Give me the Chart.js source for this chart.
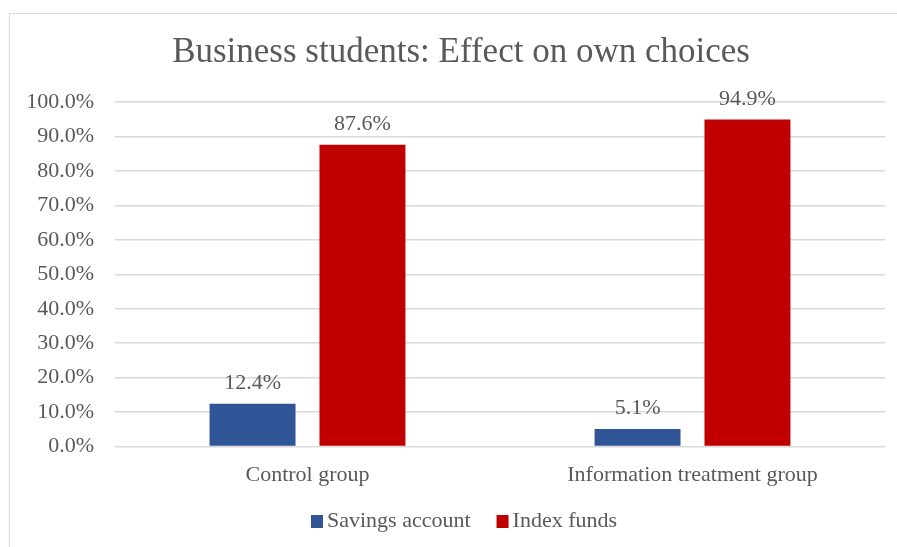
<!DOCTYPE html>
<html>
<head>
<meta charset="utf-8">
<script src="https://cdn.jsdelivr.net/npm/chart.js@4.4.1/dist/chart.umd.min.js"></script>
<style>
  html, body { margin: 0; padding: 0; background: #fff; }
  #wrap { position: relative; width: 897px; height: 547px; overflow: hidden; }
  #frame { position: absolute; left: 9px; top: 13px; width: 950px; height: 600px;
           border-left: 1px solid #d9d9d9; border-top: 1px solid #d9d9d9; }
  canvas { position: absolute; left: 0; top: 0; }
</style>
</head>
<body>
<div id="wrap">
  <div id="frame"></div>
  <canvas id="chart" width="897" height="547"></canvas>
</div>
<script>
// chart data
var groups = ['Control group', 'Information treatment group'];
var savingsAccount = [12.4, 5.1];
var indexFunds = [87.6, 94.9];
var seriesNames = ['Savings account', 'Index funds'];
var chartTitle = 'Business students: Effect on own choices';

var textColor = '#595959';
var serif = '"Liberation Serif", "Times New Roman", serif';
var labelFont = '22px ' + serif;
var centerX = 463;   // title and legend share this centre line

// writes the value above every bar
var barValues = {
  id: 'barValues',
  afterDatasetsDraw: function(chart) {
    var ctx = chart.ctx;
    ctx.save();
    ctx.font = labelFont;
    ctx.fillStyle = textColor;
    ctx.textAlign = 'center';
    ctx.textBaseline = 'alphabetic';
    chart.data.datasets.forEach(function(ds, i) {
      chart.getDatasetMeta(i).data.forEach(function(bar, j) {
        ctx.fillText(ds.data[j].toFixed(1) + '%', bar.x, bar.y - 15);
      });
    });
    ctx.restore();
  }
};

// title on top and a compact legend under the axis
var titleAndLegend = {
  id: 'titleAndLegend',
  afterDraw: function(chart) {
    var ctx = chart.ctx;
    ctx.save();
    ctx.fillStyle = textColor;
    ctx.font = '35px ' + serif;
    ctx.textAlign = 'center';
    ctx.textBaseline = 'middle';
    ctx.fillText(chartTitle, centerX - 2, 53);

    var box = 12, gap = 4, spacing = 26, y = 521;
    ctx.font = labelFont;
    ctx.textAlign = 'left';
    var items = chart.data.datasets.map(function(ds) {
      return { text: ds.label, color: ds.backgroundColor, w: box + gap + ctx.measureText(ds.label).width };
    });
    var total = items.reduce(function(s, it) { return s + it.w; }, 0) + spacing * (items.length - 1);
    var x = centerX + 1 - total / 2;
    items.forEach(function(it) {
      ctx.fillStyle = it.color;
      ctx.fillRect(x, y - box / 2, box, box + 1);
      ctx.fillStyle = textColor;
      ctx.fillText(it.text, x + box + gap, y);
      x += it.w + spacing;
    });
    ctx.restore();
  }
};

var ctx = document.getElementById('chart').getContext('2d');
var chart = new Chart(ctx, {
  type: 'bar',
  data: {
    labels: groups,
    datasets: [
      { label: seriesNames[0], data: savingsAccount, backgroundColor: '#2f5597', borderWidth: 0 },
      { label: seriesNames[1], data: indexFunds, backgroundColor: '#c00000', borderWidth: 0 }
    ]
  },
  options: {
    responsive: false,
    animation: false,
    categoryPercentage: 0.571,
    barPercentage: 0.782,
    layout: { padding: { left: 0, right: 12, top: 102, bottom: 52 } },
    scales: {
      x: {
        grid: { display: false },
        border: { display: false },
        ticks: { color: textColor, font: { family: serif, size: 22 }, padding: 7 }
      },
      y: {
        min: 0,
        max: 100,
        afterFit: function(scale) { scale.width = 115; },
        grid: { color: '#d9d9d9', lineWidth: 1.5, drawTicks: false },
        border: { display: false },
        ticks: {
          stepSize: 10,
          padding: 21,
          color: textColor,
          font: { family: serif, size: 22 },
          callback: function(v) { return v.toFixed(1) + '%'; }
        }
      }
    },
    plugins: {
      title: { display: false },
      legend: { display: false },
      tooltip: { enabled: false }
    }
  },
  plugins: [barValues, titleAndLegend]
});
</script>
</body>
</html>
